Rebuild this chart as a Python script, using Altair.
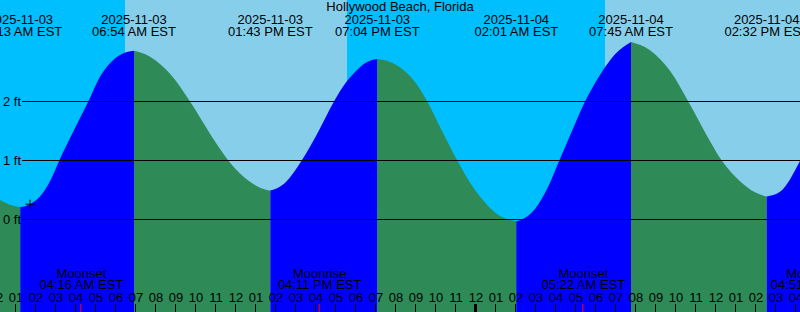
import altair as alt
import pandas as pd
from datetime import datetime

BASE = datetime(2025, 11, 3)


def hrs(s):
    t = datetime.strptime(s, "%Y-%m-%d %H:%M")
    return (t - BASE).total_seconds() / 3600.0


STATION = "Hollywood Beach, Florida"

# tide extremes (low/high)
event_times = ["2025-11-03 01:13", "2025-11-03 06:54", "2025-11-03 13:43",
               "2025-11-03 19:04", "2025-11-04 02:01", "2025-11-04 07:45",
               "2025-11-04 14:32"]
event_feet = [0.21, 2.86, 0.49, 2.72, -0.03, 3.01, 0.39]

# water level (hours after 2025-11-03 00:00, feet)
sample_hours = [-0.4, 0.2, 0.7,
                1.7, 2.2, 2.7, 3.165, 3.95, 4.615, 5.2, 5.7, 6.2,
                7.7, 8.7, 9.7, 10.2, 10.95, 11.615, 12.2, 12.7, 13.2,
                14.45, 15.285, 16.1, 16.9, 17.45, 17.95, 18.45,
                19.7, 20.2, 20.95, 21.565, 22.3, 23.065, 23.95, 24.45, 24.95, 25.45,
                26.45, 26.95, 27.6, 28.165, 28.8, 29.45, 30.2, 30.95,
                32.7, 33.7, 34.615, 35.45, 36.285, 37.2, 37.95,
                39.2, 39.7, 40.2, 40.8]
sample_feet = [0.44, 0.33, 0.25,
               0.26, 0.39, 0.65, 1.0, 1.55, 2.0, 2.42, 2.65, 2.79,
               2.76, 2.47, 2.0, 1.73, 1.32, 1.0, 0.78, 0.64, 0.54,
               0.62, 1.0, 1.48, 2.0, 2.3, 2.5, 2.65,
               2.67, 2.58, 2.33, 2.0, 1.5, 1.0, 0.5, 0.29, 0.12, 0.02,
               0.03, 0.18, 0.55, 1.0, 1.5, 2.0, 2.45, 2.8,
               2.87, 2.52, 2.0, 1.48, 1.0, 0.65, 0.46,
               0.47, 0.68, 0.99, 1.35]

# sky: boundaries (sunrise / sunset) and kind of each interval
sun_times = ["2025-11-02 22:00", "2025-11-03 06:27", "2025-11-03 17:33",
             "2025-11-04 06:27", "2025-11-04 18:00"]
sun_kind = ["night", "day", "night", "day"]

moon_times = ["2025-11-03 04:16", "2025-11-03 16:11", "2025-11-04 05:22", "2025-11-04 16:51"]
moon_kind = ["Moonset", "Moonrise", "Moonset", "Moonrise"]

now_time = "2025-11-03 01:42"
now_feet = 0.26

level_ticks = [0, 1, 2]
first_hour, last_hour = 0, 41

# ---------------------------------------------------------------- styles
SKY = {"night": "#00BFFF", "day": "#87CEEB"}
WATER = {"rise": "#0000FF", "fall": "#2E8B57"}
FONT = "Liberation Sans"
FS = 13
W, H = 800, 312
Y_HI = 219.5 / 59.0
Y_LO = -(H - 219.5) / 59.0

xs = alt.Scale(domain=[0.2, 40.2], nice=False, zero=False)
ys = alt.Scale(domain=[Y_LO, Y_HI], nice=False, zero=False)

# ---------------------------------------------------------------- tables
ev_h = [hrs(t) for t in event_times]
rows = []
for h, f in zip(sample_hours, sample_feet):
    seg = sum(1 for e in ev_h if e < h)
    rows.append({"h": h, "ft": f, "seg": seg})
for i, (h, f) in enumerate(zip(ev_h, event_feet)):
    rows.append({"h": h, "ft": f, "seg": i})
    rows.append({"h": h, "ft": f, "seg": i + 1})
curve = pd.DataFrame(rows).sort_values(["seg", "h"]).reset_index(drop=True)
curve["col"] = [WATER["rise"] if s % 2 == 1 else WATER["fall"] for s in curve["seg"]]

sky = pd.DataFrame({
    "h0": [hrs(t) for t in sun_times[:-1]],
    "h1": [hrs(t) for t in sun_times[1:]],
    "col": [SKY[k] for k in sun_kind],
})

events = pd.DataFrame({
    "h": ev_h,
    "date": [t[:10] for t in event_times],
    "time": [datetime.strptime(t, "%Y-%m-%d %H:%M").strftime("%I:%M %p EST") for t in event_times],
})

moons = pd.DataFrame({
    "h": [hrs(t) for t in moon_times],
    "name": moon_kind,
    "time": [datetime.strptime(t, "%Y-%m-%d %H:%M").strftime("%I:%M %p EST") for t in moon_times],
})

hours = pd.DataFrame({"h": list(range(first_hour, last_hour + 1))})
hours["lab"] = [f"{(h - 1) % 12 + 1:02d}" for h in hours["h"]]
hours["mid"] = [h % 24 == 0 for h in hours["h"]]

levels = pd.DataFrame({"ft": level_ticks, "lab": [f"{v} ft" for v in level_ticks]})
now = pd.DataFrame({"h": [hrs(now_time)], "ft": [now_feet]})

# ---------------------------------------------------------------- layers
X = alt.X("h:Q", scale=xs, axis=None)
X2 = alt.X("h0:Q", scale=xs, axis=None)

sky_l = alt.Chart(sky).mark_rect(clip=True).encode(
    x=X2, x2="h1:Q", y=alt.value(0), y2=alt.value(H),
    color=alt.Color("col:N", scale=None))

water_l = alt.Chart(curve).mark_area(interpolate="monotone", clip=True).encode(
    x=X, y=alt.Y("ft:Q", scale=ys, axis=None, stack=None), y2=alt.value(H),
    color=alt.Color("col:N", scale=None), detail="seg:N")

grid_l = alt.Chart(levels).mark_rule(color="black", strokeWidth=1).encode(
    y=alt.Y("ft:Q", scale=ys, axis=None), x=alt.value(22), x2=alt.value(W))

level_txt = alt.Chart(levels).mark_text(
    font=FONT, fontSize=FS, align="left", baseline="alphabetic", dy=4.5, color="black").encode(
    y=alt.Y("ft:Q", scale=ys, axis=None), x=alt.value(3), text="lab:N")

tick_l = alt.Chart(hours).mark_rule(color="black", xOffset=-0.5).encode(
    x=X, y=alt.value(304), y2=alt.value(H),
    strokeWidth=alt.condition("datum.mid", alt.value(3), alt.value(1)))

moon_tick = alt.Chart(moons).mark_rule(color="#FF0000", strokeWidth=1, xOffset=-0.5).encode(
    x=X, y=alt.value(304), y2=alt.value(H))

hour_txt = alt.Chart(hours).mark_text(
    font=FONT, fontSize=FS, align="center", baseline="alphabetic", color="black").encode(
    x=X, y=alt.value(301.7), text="lab:N")

moon_name = alt.Chart(moons).mark_text(
    font=FONT, fontSize=FS, align="center", baseline="alphabetic", color="black").encode(
    x=X, y=alt.value(277.7), text="name:N")
moon_time = alt.Chart(moons).mark_text(
    font=FONT, fontSize=FS, align="center", baseline="alphabetic", color="black").encode(
    x=X, y=alt.value(289.3), text="time:N")

ev_date = alt.Chart(events).mark_text(
    font=FONT, fontSize=FS, align="center", baseline="alphabetic", color="black").encode(
    x=X, y=alt.value(24), text="date:N")
ev_time = alt.Chart(events).mark_text(
    font=FONT, fontSize=FS, align="center", baseline="alphabetic", color="black").encode(
    x=X, y=alt.value(36), text="time:N")

title_l = alt.Chart(pd.DataFrame({"t": [STATION]})).mark_text(
    font=FONT, fontSize=FS, align="center", baseline="alphabetic", color="black").encode(
    x=alt.value(W / 2), y=alt.value(11), text="t:N")

now_l = alt.Chart(now).mark_point(
    shape="M-1,0L1,0M0,-1L0,1", size=81, filled=False, stroke="black",
    strokeWidth=1, opacity=1).encode(
    x=X, y=alt.Y("ft:Q", scale=ys, axis=None))

chart = alt.layer(
    sky_l, water_l, grid_l, level_txt, tick_l, moon_tick, hour_txt,
    moon_name, moon_time, ev_date, ev_time, title_l, now_l
).properties(
    width=W, height=H, padding=0, autosize="none"
).configure_view(stroke=None)

chart.save("out.html", embed_options={"renderer": "svg", "actions": False})
